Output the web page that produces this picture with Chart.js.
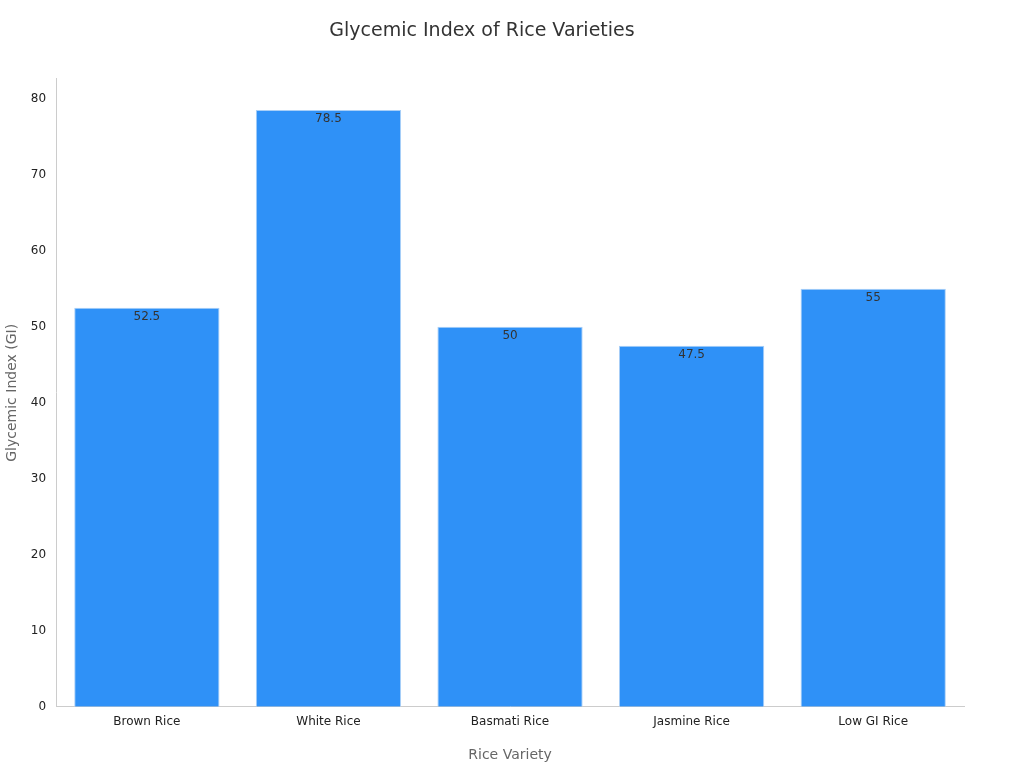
<!DOCTYPE html>
<html><head><meta charset="utf-8">
<script src="https://cdn.jsdelivr.net/npm/chart.js@4/dist/chart.umd.min.js"></script>
<style>html,body{margin:0;background:#fff}#w{width:1024px;height:768px}</style>
</head><body><div id="w"><canvas id="c"></canvas></div>
<script>
const categories = ["Brown Rice","White Rice","Basmati Rice","Jasmine Rice","Low GI Rice"];
const giValues = [52.5, 78.5, 50, 47.5, 55];
const yTicks = [0,10,20,30,40,50,60,70,80];

Chart.defaults.font.family = "DejaVu Sans";
const labelPlugin = {
  id:'lbl',
  afterDatasetsDraw(chart){
    const ctx=chart.ctx; const meta=chart.getDatasetMeta(0);
    ctx.save(); ctx.font="12px DejaVu Sans"; ctx.fillStyle="#333"; ctx.textAlign="center"; ctx.textBaseline="top";
    meta.data.forEach((b,i)=>ctx.fillText(String(giValues[i]), b.x, b.y+3));
    ctx.restore();
  }
};
new Chart(document.getElementById('c'),{
  type:'bar',
  data:{labels:categories,datasets:[{data:giValues,backgroundColor:'#2f91f7',borderColor:'#a9cff7',borderWidth:1,categoryPercentage:0.8,barPercentage:1}]},
  options:{
    responsive:true,maintainAspectRatio:false,animation:false,
    layout:{padding:{top:10,right:60,left:0,bottom:0}},
    plugins:{legend:{display:false},tooltip:{enabled:false},
      title:{display:true,text:'Glycemic Index of Rice Varieties',color:'#333',font:{size:19,weight:'normal'},padding:{top:10,bottom:36}}},
    scales:{
      x:{grid:{display:false,drawTicks:false},border:{color:'#ccc'},ticks:{color:'#222',font:{size:12},padding:8},
         title:{display:true,text:'Rice Variety',color:'#666',font:{size:14},padding:{top:10}}},
      y:{min:0,max:82.6,grid:{display:false,drawTicks:true,tickLength:6,color:'#999'},border:{color:'#ccc'},
         afterBuildTicks:(s)=>{s.ticks=yTicks.map(v=>({value:v}));},
         ticks:{color:'#222',font:{size:12},padding:4},
         title:{display:true,text:'Glycemic Index (GI)',color:'#666',font:{size:14},padding:{bottom:6}}}
    }
  },
  plugins:[labelPlugin]
});
</script></body></html>
